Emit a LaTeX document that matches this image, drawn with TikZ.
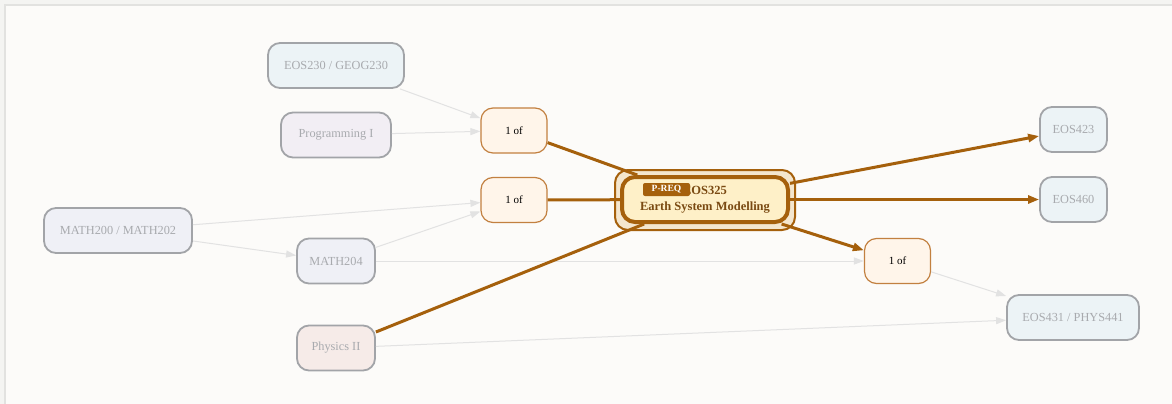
\documentclass[tikz,border=0pt]{standalone}
\usepackage{fontspec}
\setmainfont{Liberation Serif}
\usetikzlibrary{arrows.meta,backgrounds}
\definecolor{pagebg}{HTML}{F4F4F2}
\definecolor{framebg}{HTML}{FCFBF9}
\definecolor{frameln}{HTML}{E2E2E0}
\definecolor{brown}{HTML}{A5600C}
\definecolor{darkbrown}{HTML}{7A4A12}
\definecolor{oneofln}{HTML}{C28040}
\definecolor{oneoffill}{HTML}{FFF5EA}
\definecolor{courseln}{HTML}{A2A4A8}
\definecolor{coursetxt}{HTML}{A8AAAE}
\definecolor{fblue}{HTML}{ECF3F6}
\definecolor{flav}{HTML}{F2EEF4}
\definecolor{fmath}{HTML}{EFF0F6}
\definecolor{fphys}{HTML}{F6EBE8}
\definecolor{edgegray}{HTML}{E2E2E2}
\definecolor{outerfill}{HTML}{F4E6CE}
\definecolor{innerfill}{HTML}{FEF0C8}
\tikzset{
  course/.style={draw=courseln, line width=1.8pt, rounded corners=12pt, text=coursetxt,
    font=\fontsize{12.3}{14}\selectfont, minimum height=45pt, inner sep=0pt},
  oneof/.style={draw=oneofln, fill=oneoffill, line width=1.2pt, rounded corners=12pt,
    minimum width=66pt, minimum height=45pt, font=\fontsize{11}{13}\selectfont, inner sep=0pt},
  grayedge/.style={draw=edgegray, line width=1pt, -{Triangle[length=10pt,width=7pt,fill=edgegray]}},
  brownedge/.style={draw=brown, line width=3pt, -{Triangle[length=11pt,width=8pt,fill=brown]}},
  brownin/.style={draw=brown, line width=3pt},
}
\begin{document}
\begin{tikzpicture}[x=1pt,y=-1pt]
\useasboundingbox (0,0) rectangle (1172,404);
\fill[pagebg] (0,0) rectangle (1172,404);
\draw[frameln, fill=framebg, line width=2pt] (5,5) rectangle (1185,420);

% course nodes
\node[course, fill=fblue, minimum width=136pt] (eos230) at (336,65.5) {EOS230 / GEOG230};
\node[course, fill=flav, minimum width=110pt] (prog) at (336,135) {Programming I};
\node[course, fill=fmath, minimum width=148pt] (math200) at (118,230.5) {MATH200 / MATH202};
\node[course, fill=fmath, minimum width=78pt] (math204) at (336,261) {MATH204};
\node[course, fill=fphys, minimum width=78pt] (phys) at (336,348) {Physics II};
\node[course, fill=fblue, minimum width=67pt] (eos423) at (1073.5,129.5) {EOS423};
\node[course, fill=fblue, minimum width=67pt] (eos460) at (1073.5,199.5) {EOS460};
\node[course, fill=fblue, minimum width=132pt] (eos431) at (1073,317.5) {EOS431 / PHYS441};

% one-of nodes
\node[oneof] (oa) at (514,130.5) {1 of};
\node[oneof] (ob) at (514,200) {1 of};
\node[oneof] (oc) at (897.5,261) {1 of};

% central course
\node[draw=brown, fill=outerfill, line width=2pt, rounded corners=13pt,
  minimum width=180pt, minimum height=60pt] (outer) at (705,200) {};
\node[draw=brown, fill=innerfill, line width=4pt, rounded corners=13pt,
  minimum width=166pt, minimum height=45pt, text=darkbrown, align=center,
  font=\bfseries\fontsize{12.5}{16}\selectfont, inner sep=0pt] (eos325) at (705,199.5)
  {EOS325\\Earth System Modelling};
\node[fill=brown, text=white, rounded corners=2pt, inner sep=0pt, minimum width=47pt,
  minimum height=13pt, font=\bfseries\fontsize{9.5}{10}\selectfont] (preq) at (666.5,189.5) {P-REQ};

% gray edges
\draw[grayedge] (eos230) -- (oa);
\draw[grayedge] (prog) -- (oa);
\draw[grayedge] (math200) -- (ob);
\draw[grayedge] (math200) -- (math204);
\draw[grayedge] (math204) -- (ob);
\draw[grayedge] (math204) -- (oc);
\draw[grayedge] (oc) -- (eos431);
\draw[grayedge] (phys) -- (eos431);

% brown edges
\draw[brownin] (oa) -- (eos325);
\draw[brownin] (ob) -- (eos325);
\draw[brownin] (phys) -- (eos325);
\draw[brownedge] (eos325) -- (eos423);
\draw[brownedge] (eos325) -- (eos460);
\draw[brownedge] (eos325) -- (oc);

\end{tikzpicture}
\end{document}
